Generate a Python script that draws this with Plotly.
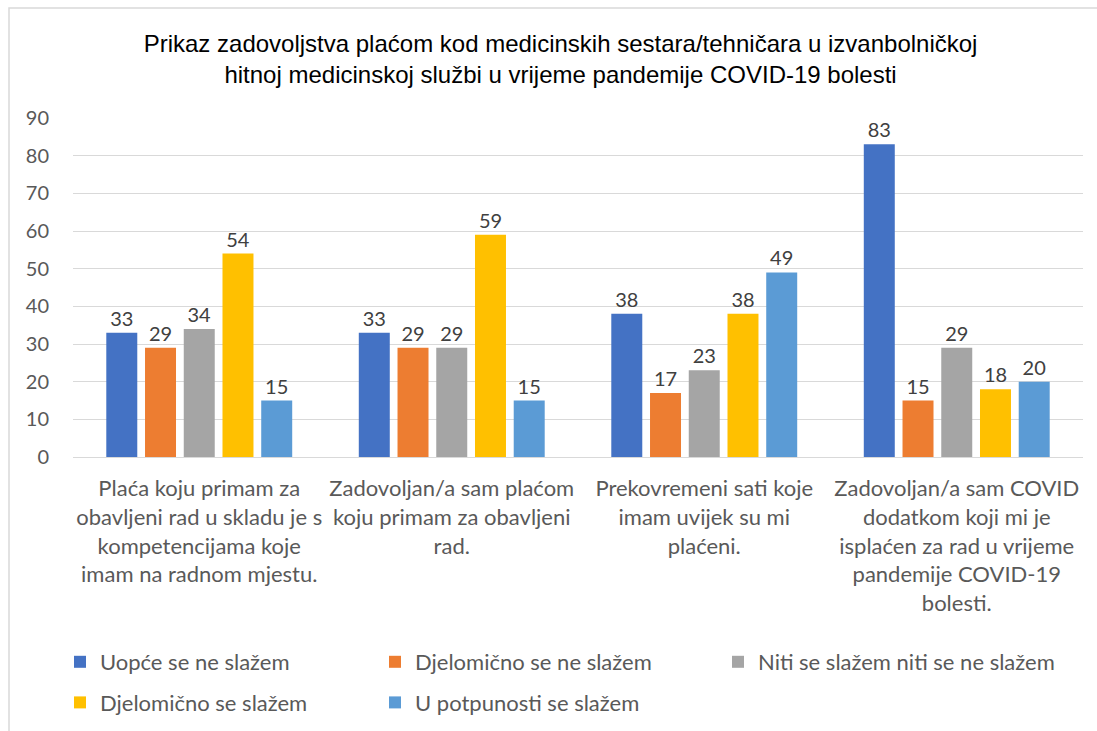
import plotly.graph_objects as go

# Data
categories = [
    "Plaća koju primam za<br>obavljeni rad u skladu je s<br>kompetencijama koje<br>imam na radnom mjestu.",
    "Zadovoljan/a sam plaćom<br>koju primam za obavljeni<br>rad.",
    "Prekovremeni sati koje<br>imam uvijek su mi<br>plaćeni.",
    "Zadovoljan/a sam COVID<br>dodatkom koji mi je<br>isplaćen za rad u vrijeme<br>pandemije COVID-19<br>bolesti.",
]
series_names = [
    "Uopće se ne slažem",
    "Djelomično se ne slažem",
    "Niti se slažem niti se ne slažem",
    "Djelomično se slažem",
    "U potpunosti se slažem",
]
uopce = [33, 33, 38, 83]
djelomicno_ne = [29, 29, 17, 15]
niti = [34, 29, 23, 29]
djelomicno_da = [54, 59, 38, 18]
potpuno = [15, 15, 49, 20]
y_ticks = [0, 10, 20, 30, 40, 50, 60, 70, 80, 90]

values = [uopce, djelomicno_ne, niti, djelomicno_da, potpuno]
colors = ["#4472C4", "#ED7D31", "#A5A5A5", "#FFC000", "#5B9BD5"]
# legend column for each series (Excel lays them out 3 + 2)
legend_ids = ["legend", "legend2", "legend3", "legend", "legend2"]

FONT = "Lato, 'Open Sans', sans-serif"
W, H = 1097, 731
ML, MR, MT, MB = 73, 14, 118, 274

fig = go.Figure()
for i, (name, vals, col) in enumerate(zip(series_names, values, colors)):
    fig.add_trace(go.Bar(
        x=categories, y=vals, name=name,
        marker_color=col, marker_line_width=0,
        text=vals, textposition="outside",
        textfont=dict(size=20, color="#404040", family=FONT),
        cliponaxis=False,
        legend=legend_ids[i], legendgroup=name,
    ))

legend_common = dict(
    orientation="v", xref="container", yref="container",
    xanchor="left", yanchor="top", y=1 - 641 / H,
    font=dict(size=22, color="#595959", family=FONT),
    tracegroupgap=9, bgcolor="rgba(0,0,0,0)", borderwidth=0,
)

fig.update_layout(
    width=W, height=H,
    paper_bgcolor="white", plot_bgcolor="white",
    margin=dict(l=ML, r=MR, t=MT, b=MB, autoexpand=False),
    barmode="group", bargap=0.233, bargroupgap=0.2,
    font=dict(family=FONT, size=22, color="#595959"),
    title=dict(
        text="Prikaz zadovoljstva plaćom kod medicinskih sestara/tehničara u izvanbolničkoj<br>hitnoj medicinskoj službi u vrijeme pandemije COVID-19 bolesti",
        x=0.511, xanchor="center", y=1 - 52 / H, yanchor="middle",
        font=dict(family="'Liberation Sans', Arial, sans-serif", size=24, color="#000000"),
    ),
    legend=dict(legend_common, x=60 / W),
    legend2=dict(legend_common, x=375 / W),
    legend3=dict(legend_common, x=718 / W),
    showlegend=True,
)

fig.update_yaxes(
    range=[0, 90], tickvals=y_ticks, showgrid=True, gridcolor="#D9D9D9", gridwidth=1,
    zeroline=True, zerolinecolor="#D9D9D9", zerolinewidth=1,
    showline=False, ticks="", tickfont=dict(size=20, color="#595959"),
    ticklabelstandoff=23, automargin=False,
)
fig.update_xaxes(
    showline=True, linecolor="#D9D9D9", linewidth=1, ticks="",
    tickfont=dict(size=22, color="#595959"), ticklabelstandoff=12,
    tickangle=0, automargin=False,
)

# light chart border as in the original (left and top edges visible)
pw, ph = W - ML - MR, H - MT - MB
def py(p):
    return (H - MB - p) / ph
fig.add_shape(
    type="rect", xref="paper", yref="paper",
    x0=(9 - ML) / pw, x1=(W + 5 - ML) / pw,
    y0=py(H + 5), y1=py(8),
    line=dict(color="#D9D9D9", width=1.5), fillcolor="rgba(0,0,0,0)", layer="below",
)

# drop the default page margin so the figure sits at the window origin
fig.write_html("out.html", config={"displayModeBar": False},
               post_script="document.body.style.margin='0';")
